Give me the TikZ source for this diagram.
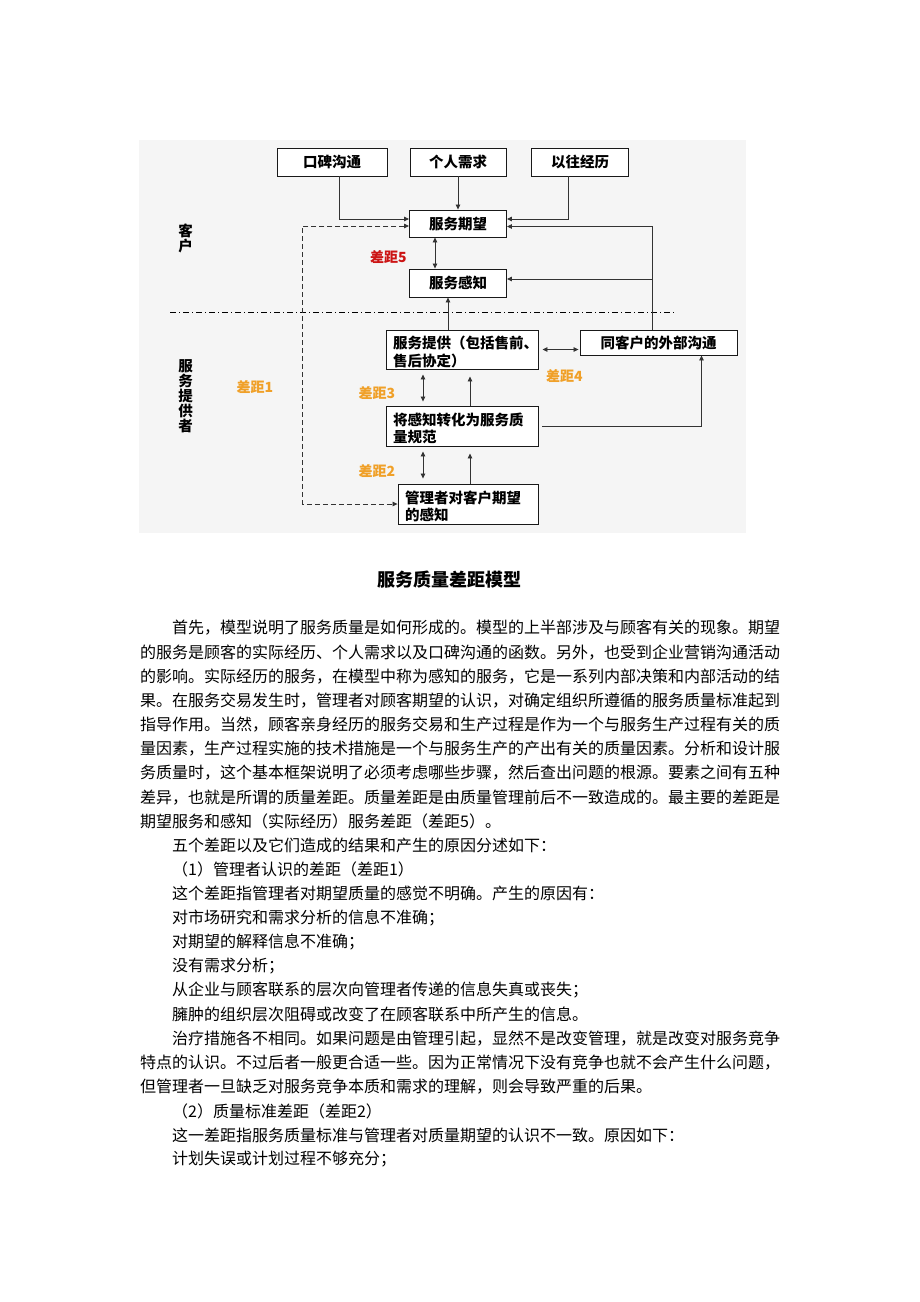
\documentclass[tikz,border=0pt]{standalone}
\usepackage{fontspec}
\setmainfont{Noto Sans CJK SC}
\usetikzlibrary{positioning,calc,arrows.meta}
\definecolor{panelgray}{RGB}{245,245,245}
\definecolor{gapred}{RGB}{204,20,20}
\definecolor{gaporange}{RGB}{240,160,40}
\newcommand{\lowtext}{\rule{0pt}{17pt}}
\tikzset{
  box/.style={draw=black!90, line width=0.9pt, fill=white, inner sep=0pt, font=\bfseries\fontsize{14.5}{17.5}\selectfont},
  onebox/.style={box, minimum height=28pt},
  twobox/.style={box, align=left, inner xsep=7pt, inner ysep=1pt, minimum height=40pt},
  arr/.style={-{Triangle[length=5pt,width=4.5pt]}, line width=0.8pt, draw=black!80},
  dblarr/.style={{Triangle[length=5pt,width=4.5pt]}-{Triangle[length=5pt,width=4.5pt]}, line width=0.8pt, draw=black!80},
  gaplabel/.style={font=\bfseries\fontsize{14}{14}\selectfont, inner sep=0pt},
  sidelabel/.style={font=\bfseries\fontsize{14.5}{15}\selectfont, align=center, inner sep=0pt},
  bodyline/.style={anchor=west, inner sep=0pt, font=\fontsize{16}{24}\selectfont},
}
\begin{document}
\begin{tikzpicture}[x=1pt,y=-1pt]
    \useasboundingbox (0,0) rectangle (920,1302);
    \fill[panelgray] (139,140) rectangle (746,533);
    % customer side
    \node[onebox, minimum width=110] (kb) at (332,162) {口碑沟通};
    \node[onebox, minimum width=96] (gr) at (458,162) {个人需求};
    \node[onebox, minimum width=97] (yw) at (580,162) {以往经历};
    \node[onebox, minimum width=97, minimum height=27] (qw) at (458,223.5) {服务期望};
    \node[onebox, minimum width=97] (gz) at (458,283) {服务感知};
    % provider side
    \node[twobox, text width=138, minimum height=39] (tg) at (462,349.5) {\lowtext 服务提供（包括售前、\\售后协定）};
    \node[onebox, minimum width=157, minimum height=25] (wb) at (658.5,342.5) {同客户的外部沟通};
    \node[twobox, text width=138] (gf) at (462,426) {\lowtext 将感知转化为服务质\\量规范};
    \node[twobox, text width=126] (gl) at (468,504) {\lowtext 管理者对客户期望\\的感知};
    \draw[dash pattern=on 6pt off 3pt on 1pt off 3pt, line width=0.7pt] (170,312.7) -- (677,312.7);
    \node[sidelabel] (kh) at (185.6,238) {客\\户};
    \node[sidelabel] (fw) at (185.6,396.5) {服\\务\\提\\供\\者};
    \node[gaplabel, text=gapred] (g5) at (388.5,256.7) {差距5};
    \node[gaplabel, text=gaporange] (g1) at (255,386.7) {差距1};
    \node[gaplabel, text=gaporange] (g3) at (377,392.7) {差距3};
    \node[gaplabel, text=gaporange] (g2) at (377,470.7) {差距2};
    \node[gaplabel, text=gaporange] (g4) at (564.5,376) {差距4};
    % connectors
    \draw[arr] ([xshift=7pt]kb.south) |- ([yshift=4.5pt]qw.west);
    \draw[arr] (gr.south) -- (qw.north);
    \draw[arr] ([xshift=-12pt]yw.south) |- ([yshift=4.5pt]qw.east);
    \draw[arr] ([xshift=-6pt]wb.north) |- ([yshift=-3pt]qw.east);
    \draw[arr] ([xshift=-6pt]wb.north) |- ([yshift=4pt]gz.east);
    \draw[dblarr] ([xshift=-23pt]qw.south) -- ([xshift=-23pt]gz.north);
    \draw[arr] ([xshift=-14pt]tg.north) -- ([xshift=-10pt]gz.south);
    \draw[dblarr, shorten <=4pt, shorten >=1pt] (tg.east) -- (wb.west |- tg.east);
    \draw[arr, shorten <=4pt] (gf.east) -| ([xshift=43pt]wb.south);
    \draw[dblarr, shorten <=5pt, shorten >=4pt] ([xshift=-39pt]tg.south) -- ([xshift=-39pt]gf.north);
    \draw[arr, shorten >=7pt] ([xshift=8pt]gf.north) -- ([xshift=8pt]tg.south);
    \draw[dblarr, shorten <=5pt, shorten >=5pt] ([xshift=-39pt]gf.south) -- ([xshift=-45pt]gl.north);
    \draw[arr, shorten >=7pt] ([xshift=2pt]gl.north) -- ([xshift=8pt]gf.south);
    \coordinate (dl) at (302.5,360);
    \draw[dblarr, dash pattern=on 5pt off 3pt] ([yshift=-2.5pt]qw.west) -| (dl) |- (gl.west);
    % caption and text
    \node[font=\bfseries\fontsize{18}{18}\selectfont] (title) at (449,580) {服务质量差距模型};
    \node[bodyline] (t1) at (172,628) {首先，模型说明了服务质量是如何形成的。模型的上半部涉及与顾客有关的现象。期望};
    \node[bodyline] (t2) at (140,652.2) {的服务是顾客的实际经历、个人需求以及口碑沟通的函数。另外，也受到企业营销沟通活动};
    \node[bodyline] (t3) at (140,676.3) {的影响。实际经历的服务，在模型中称为感知的服务，它是一系列内部决策和内部活动的结};
    \node[bodyline] (t4) at (140,700.5) {果。在服务交易发生时，管理者对顾客期望的认识，对确定组织所遵循的服务质量标准起到};
    \node[bodyline] (t5) at (140,724.6) {指导作用。当然，顾客亲身经历的服务交易和生产过程是作为一个与服务生产过程有关的质};
    \node[bodyline] (t6) at (140,748.8) {量因素，生产过程实施的技术措施是一个与服务生产的产出有关的质量因素。分析和设计服};
    \node[bodyline] (t7) at (140,772.9) {务质量时，这个基本框架说明了必须考虑哪些步骤，然后查出问题的根源。要素之间有五种};
    \node[bodyline] (t8) at (140,797.1) {差异，也就是所谓的质量差距。质量差距是由质量管理前后不一致造成的。最主要的差距是};
    \node[bodyline] (t9) at (140,821.2) {期望服务和感知（实际经历）服务差距（差距5）。};
    \node[bodyline] (t10) at (172,845.4) {五个差距以及它们造成的结果和产生的原因分述如下：};
    \node[bodyline] (t11) at (172,869.5) {（1）管理者认识的差距（差距1）};
    \node[bodyline] (t12) at (172,893.7) {这个差距指管理者对期望质量的感觉不明确。产生的原因有：};
    \node[bodyline] (t13) at (172,917.8) {对市场研究和需求分析的信息不准确；};
    \node[bodyline] (t14) at (172,942) {对期望的解释信息不准确；};
    \node[bodyline] (t15) at (172,966.1) {没有需求分析；};
    \node[bodyline] (t16) at (172,990.3) {从企业与顾客联系的层次向管理者传递的信息失真或丧失；};
    \node[bodyline] (t17) at (172,1014.4) {臃肿的组织层次阻碍或改变了在顾客联系中所产生的信息。};
    \node[bodyline] (t18) at (172,1038.6) {治疗措施各不相同。如果问题是由管理引起，显然不是改变管理，就是改变对服务竞争};
    \node[bodyline] (t19) at (140,1062.7) {特点的认识。不过后者一般更合适一些。因为正常情况下没有竞争也就不会产生什么问题，};
    \node[bodyline] (t20) at (140,1086.9) {但管理者一旦缺乏对服务竞争本质和需求的理解，则会导致严重的后果。};
    \node[bodyline] (t21) at (172,1111) {（2）质量标准差距（差距2）};
    \node[bodyline] (t22) at (172,1135.2) {这一差距指服务质量标准与管理者对质量期望的认识不一致。原因如下：};
    \node[bodyline] (t23) at (172,1159.3) {计划失误或计划过程不够充分；};
\end{tikzpicture}
\end{document}
